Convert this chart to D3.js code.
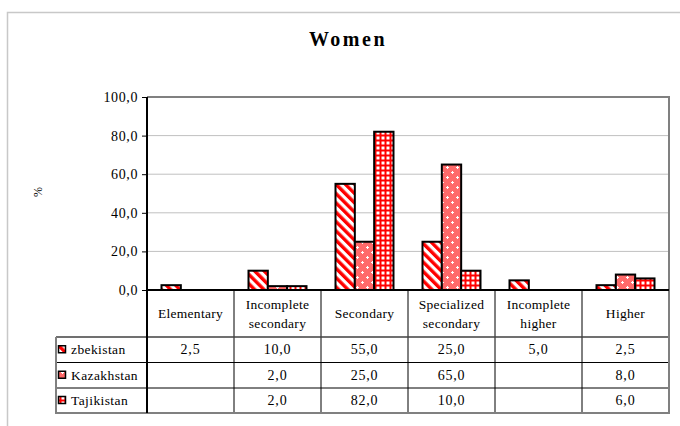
<!DOCTYPE html>
<html><head><meta charset="utf-8">
<script src="https://cdn.jsdelivr.net/npm/d3@7"></script>
<style>
html,body{margin:0;padding:0;background:#fff;}
svg{display:block;}
svg text{font-family:"Liberation Serif","DejaVu Serif",serif;}
</style></head>
<body>
<svg id="c" width="680" height="426"></svg>
<script>
// ---- data ----
const categories = ["Elementary", "Incomplete secondary", "Secondary", "Specialized secondary", "Incomplete higher", "Higher"];
const categoryLines = [["Elementary"], ["Incomplete", "secondary"], ["Secondary"], ["Specialized", "secondary"], ["Incomplete", "higher"], ["Higher"]];
const seriesNames = ["zbekistan", "Kazakhstan", "Tajikistan"];
const uzbekistan = [2.5, 10.0, 55.0, 25.0, 5.0, 2.5];
const kazakhstan = [null, 2.0, 25.0, 65.0, null, 8.0];
const tajikistan = [null, 2.0, 82.0, 10.0, null, 6.0];
const yTicks = [0, 20, 40, 60, 80, 100];
const title = "Women";
const yLabel = "%";

const seriesValues = [uzbekistan, kazakhstan, tajikistan];
const patternIds = ["pStripe", "pDots", "pGrid"];

const svg = d3.select("#c");
const defs = svg.append("defs");
const red = "#ff0000";

// stripes "\"
const ps = defs.append("pattern").attr("id", "pStripe").attr("patternUnits", "userSpaceOnUse")
  .attr("width", 6.6).attr("height", 6.6).attr("patternTransform", "rotate(-45)");
ps.append("rect").attr("width", 6.6).attr("height", 6.6).attr("fill", "#fff");
ps.append("rect").attr("width", 3.4).attr("height", 6.6).attr("fill", red);

// dotted (pink) with white crosses
const pd = defs.append("pattern").attr("id", "pDots").attr("patternUnits", "userSpaceOnUse")
  .attr("width", 10).attr("height", 10);
pd.append("rect").attr("width", 10).attr("height", 10).attr("fill", "#ff6a6a");
[[2, 2], [7, 7]].forEach(([cx, cy]) => {
  pd.append("rect").attr("x", cx - 1).attr("y", cy).attr("width", 3).attr("height", 1).attr("fill", "#fff");
  pd.append("rect").attr("x", cx).attr("y", cy - 1).attr("width", 1).attr("height", 3).attr("fill", "#fff");
});

// grid
const pg = defs.append("pattern").attr("id", "pGrid").attr("patternUnits", "userSpaceOnUse")
  .attr("width", 5).attr("height", 5);
pg.append("rect").attr("width", 5).attr("height", 5).attr("fill", red);
pg.append("rect").attr("x", 1.5).attr("y", 1.5).attr("width", 3).attr("height", 3).attr("fill", "#fff");

// outer chart border
svg.append("rect").attr("x", 7.5).attr("y", 12.5).attr("width", 700).attr("height", 430)
  .attr("fill", "none").attr("stroke", "#c8c8c8").attr("stroke-width", 1.5);

// title
svg.append("text").attr("x", 348).attr("y", 46).attr("text-anchor", "middle")
  .attr("font-size", 20).attr("font-weight", "bold").attr("letter-spacing", 2.5).text(title);

// layout
const L = 147, R = 669, T = 97, B = 290;
const x = d3.scaleBand().domain(categories).range([L, R]).paddingInner(0).paddingOuter(0);
const bw = x.bandwidth();
const x1 = d3.scaleBand().domain(seriesNames).range([bw / 6, bw * 5 / 6]).padding(0);
const y = d3.scaleLinear().domain([0, 100]).range([B, T]);
const fmt = v => d3.format(".1f")(v).replace(".", ",");

// gridlines
svg.append("g").selectAll("line").data(yTicks.filter(t => t > 0 && t < 100)).join("line")
  .attr("x1", L).attr("x2", R).attr("y1", d => y(d)).attr("y2", d => y(d))
  .attr("stroke", "#c0c0c0").attr("stroke-width", 1);

// plot area top/right border
svg.append("path").attr("d", `M${L},${y(100)}H${R}V${B}`).attr("fill", "none")
  .attr("stroke", "#808080").attr("stroke-width", 2);

// y axis
const yAxis = d3.axisLeft(y).tickValues(yTicks).tickFormat(fmt).tickSize(5).tickPadding(4);
const ga = svg.append("g").attr("transform", `translate(${L},0)`).call(yAxis);
ga.attr("font-family", null);
ga.select(".domain").remove();
ga.selectAll(".tick line").attr("stroke", "#000").attr("stroke-width", 1);
ga.selectAll(".tick text").attr("font-size", 14).attr("letter-spacing", 0.6).attr("fill", "#000");

// y label
svg.append("text").attr("transform", "translate(42,192) rotate(-90)").attr("text-anchor", "middle")
  .attr("font-size", 12).text(yLabel);

// bars
const barData = [];
seriesValues.forEach((vals, si) => vals.forEach((v, ci) => {
  if (v != null) barData.push({ s: seriesNames[si], c: categories[ci], v, si });
}));
svg.append("g").selectAll("rect").data(barData).join("rect")
  .attr("x", d => x(d.c) + x1(d.s)).attr("width", x1.bandwidth())
  .attr("y", d => y(d.v)).attr("height", d => y(0) - y(d.v))
  .attr("fill", d => `url(#${patternIds[d.si]})`).attr("stroke", "#000").attr("stroke-width", 2);

// table
const rowTop = [B, 337, 362.5, 388, 413];
const tL = 56;
const tg = svg.append("g");
tg.selectAll("line.sep").data(categories.slice(1)).join("line")
  .attr("x1", d => x(d)).attr("x2", d => x(d)).attr("y1", B).attr("y2", rowTop[4])
  .attr("stroke", "#000").attr("stroke-width", 1);
tg.append("line").attr("x1", tL).attr("x2", R).attr("y1", rowTop[1]).attr("y2", rowTop[1])
  .attr("stroke", "#404040").attr("stroke-width", 1.5);
[2, 3].forEach(i => tg.append("line").attr("x1", tL).attr("x2", R).attr("y1", rowTop[i]).attr("y2", rowTop[i])
  .attr("stroke", "#000").attr("stroke-width", 1));
tg.append("path").attr("d", `M${tL},${rowTop[1]}V${rowTop[4]}H${R}V${B}`).attr("fill", "none")
  .attr("stroke", "#808080").attr("stroke-width", 2);
tg.append("line").attr("x1", L).attr("x2", R).attr("y1", B).attr("y2", B).attr("stroke", "#000").attr("stroke-width", 2);
tg.append("line").attr("x1", L).attr("x2", L).attr("y1", T).attr("y2", rowTop[4]).attr("stroke", "#000").attr("stroke-width", 2);

// header labels
categories.forEach((c, ci) => {
  const lines = categoryLines[ci];
  const cx = x(c) + bw / 2;
  const mid = (rowTop[0] + rowTop[1]) / 2;
  const lh = 19;
  lines.forEach((ln, li) => {
    tg.append("text").attr("x", cx).attr("y", mid + (li - (lines.length - 1) / 2) * lh + 4.5)
      .attr("text-anchor", "middle").attr("font-size", 13.5).attr("letter-spacing", 0.3).text(ln);
  });
});

// rows
seriesNames.forEach((s, si) => {
  const yc = (rowTop[si + 1] + rowTop[si + 2]) / 2;
  tg.append("rect").attr("x", 58.5).attr("y", yc - 4).attr("width", 7).attr("height", 7)
    .attr("fill", `url(#${patternIds[si]})`).attr("stroke", "#000").attr("stroke-width", 1.5);
  tg.append("text").attr("x", 71).attr("y", yc + 4.5).attr("font-size", 13.5).attr("letter-spacing", 0.4).text(s);
  seriesValues[si].forEach((v, ci) => {
    if (v == null) return;
    tg.append("text").attr("x", x(categories[ci]) + bw / 2).attr("y", yc + 4.5)
      .attr("text-anchor", "middle").attr("font-size", 14).attr("letter-spacing", 0.8).text(fmt(v));
  });
});
</script>
</body></html>
